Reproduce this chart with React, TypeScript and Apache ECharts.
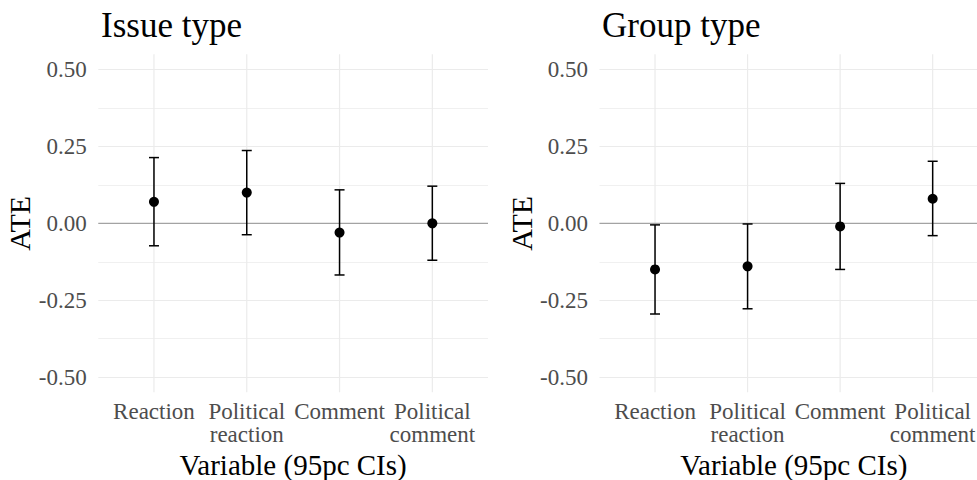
import React, { useEffect, useRef } from "react";
import * as echarts from "echarts";

const categories = ["Reaction", "Political\nreaction", "Comment", "Political\ncomment"];
const catPositions = [1, 2, 3, 4];

const issueEst = [0.07, 0.1, -0.03, 0.0];
const issueLo = [-0.073, -0.037, -0.168, -0.12];
const issueHi = [0.214, 0.237, 0.109, 0.121];

const groupEst = [-0.15, -0.14, -0.01, 0.08];
const groupLo = [-0.295, -0.278, -0.15, -0.04];
const groupHi = [-0.005, -0.002, 0.13, 0.202];

const yTicks = [-0.5, -0.25, 0, 0.25, 0.5];
const panelTitles = ["Issue type", "Group type"];
const xTitle = "Variable (95pc CIs)";
const yTitle = "ATE";

const FONT = "Liberation Serif";
const GRID_COLOR = "#ebebeb";

export default function App() {
  const ref = useRef<HTMLDivElement>(null);

  useEffect(() => {
    if (!ref.current) return;
    const chart = echarts.init(ref.current, undefined, { renderer: "svg" });

    const grids = [
      { left: 98.3, top: 69.7, width: 389.7, height: 307.3, outerBoundsMode: "none", containLabel: false },
      { left: 599.5, top: 69.7, width: 388.7, height: 307.3, outerBoundsMode: "none", containLabel: false },
    ];

    const mkX = (gi: number) => ({
      type: "value",
      gridIndex: gi,
      min: 0.4,
      max: 4.6,
      axisLine: { show: false },
      axisTick: { show: false },
      splitLine: { show: false },
      axisLabel: {
        customValues: catPositions,
        formatter: (v: number) => categories[Math.round(v) - 1] ?? "",
        color: "#4d4d4d",
        fontFamily: FONT,
        fontSize: 23,
        lineHeight: 23,
        align: "center",
        hideOverlap: false,
        margin: 22.5,
      },
      name: xTitle,
      nameLocation: "middle",
      nameGap: 61,
      nameTextStyle: { color: "#000", fontFamily: FONT, fontSize: 29 },
    });

    const mkY = (gi: number) => ({
      type: "value",
      gridIndex: gi,
      min: -0.5,
      max: 0.5,
      interval: 0.25,
      axisLine: { show: false },
      axisTick: { show: false },
      minorTick: { show: false, splitNumber: 2 },
      splitLine: { show: true, lineStyle: { color: GRID_COLOR, width: 1.2 } },
      minorSplitLine: { show: true, lineStyle: { color: "#f0f0f0", width: 1 } },
      axisLabel: {
        formatter: (v: number) => (yTicks.includes(v) ? v.toFixed(2) : ""),
        color: "#4d4d4d",
        fontFamily: FONT,
        fontSize: 23,
        margin: 11.6,
      },
      name: yTitle,
      nameLocation: "middle",
      nameRotate: 90,
      nameGap: 60,
      nameTextStyle: { color: "#000", fontFamily: FONT, fontSize: 30 },
    });

    const mkData = (est: number[], lo: number[], hi: number[]) =>
      catPositions.map((x, i) => [x, est[i], lo[i], hi[i]]);

    const gridSeries = (gi: number) => ({
      type: "custom",
      xAxisIndex: gi,
      yAxisIndex: gi,
      z: 1,
      silent: true,
      encode: { x: 0, y: 1 },
      data: catPositions.map((x) => [x, 0]),
      renderItem: (_p: any, api: any) => {
        const x = api.value(0);
        const a = api.coord([x, 0.55]);
        const b = api.coord([x, -0.55]);
        return {
          type: "line",
          shape: { x1: a[0], y1: a[1], x2: b[0], y2: b[1] },
          style: { stroke: GRID_COLOR, lineWidth: 1.2 },
        };
      },
    });

    const zeroSeries = (gi: number) => ({
      type: "line",
      xAxisIndex: gi,
      yAxisIndex: gi,
      z: 2,
      silent: true,
      symbol: "none",
      data: [
        [0.4, 0],
        [4.6, 0],
      ],
      lineStyle: { color: "#a3a3a3", width: 1.2 },
    });

    const errSeries = (gi: number, data: number[][]) => ({
      type: "custom",
      xAxisIndex: gi,
      yAxisIndex: gi,
      z: 3,
      encode: { x: 0, y: [1, 2, 3] },
      data,
      renderItem: (_p: any, api: any) => {
        const x = api.value(0);
        const m = api.value(1);
        const lo = api.value(2);
        const hi = api.value(3);
        const pH = api.coord([x, hi]);
        const pL = api.coord([x, lo]);
        const pM = api.coord([x, m]);
        const w = 5;
        const st = { stroke: "#000", lineWidth: 1.5 };
        return {
          type: "group",
          children: [
            { type: "line", shape: { x1: pH[0], y1: pH[1], x2: pL[0], y2: pL[1] }, style: st },
            { type: "line", shape: { x1: pH[0] - w, y1: pH[1], x2: pH[0] + w, y2: pH[1] }, style: st },
            { type: "line", shape: { x1: pL[0] - w, y1: pL[1], x2: pL[0] + w, y2: pL[1] }, style: st },
            { type: "circle", shape: { cx: pM[0], cy: pM[1], r: 5 }, style: { fill: "#000" } },
          ],
        };
      },
    });

    chart.setOption({
      animation: false,
      backgroundColor: "#fff",
      title: [
        { text: panelTitles[0], left: 96, top: 3, textStyle: { fontFamily: FONT, fontSize: 35, fontWeight: "normal", color: "#000" } },
        { text: panelTitles[1], left: 597, top: 3, textStyle: { fontFamily: FONT, fontSize: 35, fontWeight: "normal", color: "#000" } },
      ],
      grid: grids,
      xAxis: [mkX(0), mkX(1)],
      yAxis: [mkY(0), mkY(1)],
      series: [
        gridSeries(0),
        gridSeries(1),
        zeroSeries(0),
        zeroSeries(1),
        errSeries(0, mkData(issueEst, issueLo, issueHi)),
        errSeries(1, mkData(groupEst, groupLo, groupHi)),
      ],
    });

    return () => chart.dispose();
  }, []);

  return (
    <div
      ref={ref}
      style={{ position: "fixed", left: 0, top: 0, width: 977, height: 480, background: "#fff" }}
    />
  );
}
